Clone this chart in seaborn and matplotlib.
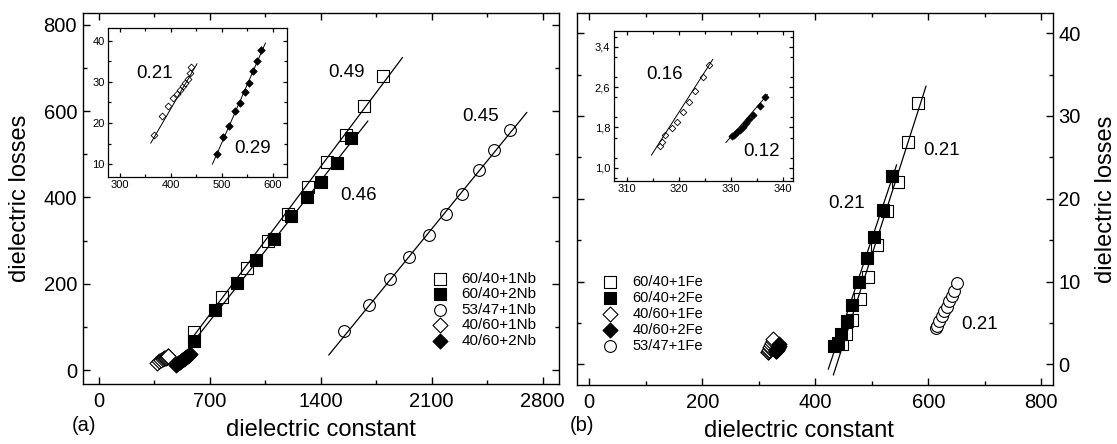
import matplotlib
matplotlib.use("Agg")
import matplotlib.pyplot as plt
import seaborn as sns
from matplotlib.ticker import MultipleLocator, FixedLocator, FixedFormatter

sns.set_theme(style="ticks")
plt.rcParams.update({
    "axes.edgecolor": "black", "text.color": "black", "axes.labelcolor": "black",
    "xtick.color": "black", "ytick.color": "black",
})
plt.rcParams["font.family"] = ["Liberation Sans", "DejaVu Sans"]

# ---------------- panel (a): Nb-doped ceramics ----------------
nb1_60_x = [603, 777, 939, 1071, 1197, 1323, 1439, 1559, 1671, 1795]
nb1_60_y = [89, 169, 236, 300, 362, 423, 482, 545, 612, 681]
nb2_60_x = [599, 735, 872, 992, 1103, 1214, 1313, 1403, 1502, 1590]
nb2_60_y = [68, 139, 203, 255, 304, 356, 401, 435, 480, 538]
nb1_53_x = [1548, 1706, 1840, 1960, 2080, 2191, 2294, 2397, 2495, 2596]
nb1_53_y = [91, 151, 210, 261, 312, 362, 408, 463, 509, 557]
nb1_40_x = [368, 383, 395, 404, 412, 418, 424, 429, 434, 438, 441]
nb1_40_y = [17.0, 21.6, 24.2, 26.0, 27.1, 28.0, 28.9, 29.8, 30.8, 32.2, 33.7]
nb2_40_x = [491, 503, 515, 526, 537, 545, 554, 561, 570, 578]
nb2_40_y = [12.6, 16.5, 19.3, 22.8, 24.8, 27.6, 29.7, 32.6, 35.0, 37.7]

# linear fits (end points)
fit_nb1_60_x, fit_nb1_60_y = [585, 1916], [72, 724]
fit_nb2_60_x, fit_nb2_60_y = [585, 1698], [60, 577]
fit_nb1_53_x, fit_nb1_53_y = [1451, 2700], [35, 597]
fit_nb1_40_x, fit_nb1_40_y = [361, 452], [15.1, 34.4]
fit_nb2_40_x, fit_nb2_40_y = [482, 586], [10.0, 39.4]

slopes_a = ["0.49", "0.46", "0.45"]
slopes_a_xy = [(1563, 690), (1638, 404), (2405, 588)]
slopes_a_inset = ["0.21", "0.29"]
slopes_a_inset_xy = [(369, 31.9), (561, 13.9)]

# ---------------- panel (b): Fe-doped ceramics ----------------
fe1_60_x = [447, 455, 465.5, 479, 494, 510, 527.5, 546, 563.5, 582.5]
fe1_60_y = [2.4, 3.6, 5.3, 7.9, 10.6, 14.4, 18.5, 22.0, 26.9, 31.6]
fe2_60_x = [433, 440, 445, 455.5, 464.4, 477.3, 491, 503.9, 519.3, 535.2]
fe2_60_y = [2.2, 2.6, 3.6, 5.2, 7.2, 10.0, 12.8, 15.4, 18.6, 22.7]
fe1_40_x = [316.3, 316.8, 317.4, 318.7, 319.7, 320.8, 322.0, 323.1, 324.6, 325.8]
fe1_40_y = [1.44, 1.52, 1.65, 1.78, 1.91, 2.11, 2.31, 2.53, 2.79, 3.04]
fe2_40_x = [330.1, 330.6, 331.1, 331.7, 332.2, 332.8, 333.5, 334.3, 335.5, 336.6]
fe2_40_y = [1.62, 1.65, 1.70, 1.75, 1.81, 1.88, 1.96, 2.05, 2.23, 2.40]
fe1_53_x = [613.6, 616, 619.5, 623.7, 627.8, 632.6, 637.3, 641.4, 645.5, 651.3]
fe1_53_y = [4.4, 4.65, 5.17, 5.78, 6.38, 6.98, 7.59, 8.27, 8.91, 9.8]

fit_fe1_60_x, fit_fe1_60_y = [432, 596], [-1.3, 33.6]
fit_fe2_60_x, fit_fe2_60_y = [423, 544], [-0.6, 24.1]
fit_fe1_40_x, fit_fe1_40_y = [314.7, 326.5], [1.25, 3.15]
fit_fe2_40_x, fit_fe2_40_y = [329.0, 337.0], [1.50, 2.45]

slopes_b = ["0.21", "0.21", "0.21"]
slopes_b_xy = [(623.7, 25.8), (455.5, 19.4), (691.5, 4.8)]
slopes_b_inset = ["0.16", "0.12"]
slopes_b_inset_xy = [(317.3, 2.84), (335.8, 1.32)]
inset_b_yticks = [1.0, 1.8, 2.6, 3.4]
inset_b_yticklabels = ["1,0", "1,8", "2,6", "3,4"]

TICK_FS = 14.5
LABEL_FS = 17
NOTE_FS = 13.5

fig = plt.figure(figsize=(11.17, 4.44), dpi=100)
ax_a = fig.add_axes([0.0740, 0.1351, 0.4261, 0.8356])
ax_b = fig.add_axes([0.5168, 0.1329, 0.4256, 0.8372])


def open_pts(ax, x, y, marker, s, label=None, lw=0.8):
    sns.scatterplot(x=x, y=y, ax=ax, marker=marker, s=s, color="white",
                    edgecolor="black", linewidth=lw, label=label, legend=False, zorder=3)


def full_pts(ax, x, y, marker, s, label=None, lw=0.8):
    sns.scatterplot(x=x, y=y, ax=ax, marker=marker, s=s, color="black",
                    edgecolor="black", linewidth=lw, label=label, legend=False, zorder=3)


def fit_line(ax, x, y, lw=0.9):
    sns.lineplot(x=x, y=y, ax=ax, color="black", linewidth=lw, legend=False, zorder=4)


def style_axes(ax, fs, major, minor, pad_x, pad_y, lw=1.0):
    ax.tick_params(which="both", direction="in", top=True, right=True,
                   bottom=True, left=True, width=lw, labelsize=fs)
    ax.tick_params(which="major", length=major)
    ax.tick_params(which="minor", length=minor)
    ax.tick_params(axis="x", pad=pad_x)
    ax.tick_params(axis="y", pad=pad_y)
    for sp in ax.spines.values():
        sp.set_linewidth(lw)
        sp.set_color("black")
    ax.grid(False)


# ---------------- panel (a) ----------------
open_pts(ax_a, nb1_60_x, nb1_60_y, "s", 64, "60/40+1Nb")
full_pts(ax_a, nb2_60_x, nb2_60_y, "s", 64, "60/40+2Nb")
open_pts(ax_a, nb1_53_x, nb1_53_y, "o", 72, "53/47+1Nb")
open_pts(ax_a, nb1_40_x, nb1_40_y, "D", 58, "40/60+1Nb")
full_pts(ax_a, nb2_40_x, nb2_40_y, "D", 58, "40/60+2Nb")
fit_line(ax_a, fit_nb1_60_x, fit_nb1_60_y)
fit_line(ax_a, fit_nb2_60_x, fit_nb2_60_y)
fit_line(ax_a, fit_nb1_53_x, fit_nb1_53_y)
for txt, (tx, ty) in zip(slopes_a, slopes_a_xy):
    ax_a.text(tx, ty, txt, fontsize=NOTE_FS, ha="center", va="center")

ax_a.set_xlim(-100, 2900)
ax_a.set_ylim(-32, 827)
ax_a.xaxis.set_major_locator(MultipleLocator(700))
ax_a.xaxis.set_minor_locator(MultipleLocator(350))
ax_a.yaxis.set_major_locator(MultipleLocator(200))
ax_a.yaxis.set_minor_locator(MultipleLocator(100))
style_axes(ax_a, TICK_FS, 5, 3, 6, 4)
ax_a.set_xlabel("dielectric constant", fontsize=LABEL_FS)
ax_a.set_ylabel("dielectric losses", fontsize=LABEL_FS)
ax_a.xaxis.set_label_coords(0.5, -0.094)
ax_a.yaxis.set_label_coords(-0.108, 0.5)

leg_a = ax_a.legend(loc="upper left", bbox_to_anchor=(0.735, 0.303), frameon=False,
                    fontsize=11, handlelength=1.0, handletextpad=0.9,
                    labelspacing=0.1, borderpad=0, borderaxespad=0, scatterpoints=1)

# inset (a)
in_a = ax_a.inset_axes([0.054, 0.559, 0.375, 0.400])
open_pts(in_a, nb1_40_x, nb1_40_y, "D", 12, lw=0.6)
full_pts(in_a, nb2_40_x, nb2_40_y, "D", 14, lw=0.6)
fit_line(in_a, fit_nb1_40_x, fit_nb1_40_y, lw=0.7)
fit_line(in_a, fit_nb2_40_x, fit_nb2_40_y, lw=0.7)
for txt, (tx, ty) in zip(slopes_a_inset, slopes_a_inset_xy):
    in_a.text(tx, ty, txt, fontsize=NOTE_FS, ha="center", va="center")
in_a.set_xlim(278, 628)
in_a.set_ylim(7, 43)
in_a.xaxis.set_major_locator(MultipleLocator(100))
in_a.xaxis.set_minor_locator(MultipleLocator(50))
in_a.yaxis.set_major_locator(MultipleLocator(10))
in_a.yaxis.set_minor_locator(MultipleLocator(5))
style_axes(in_a, 8, 3, 2, 2.5, 2.5, lw=0.9)
in_a.set_xlabel("")
in_a.set_ylabel("")

# ---------------- panel (b) ----------------
open_pts(ax_b, fe1_60_x, fe1_60_y, "s", 64, "60/40+1Fe")
full_pts(ax_b, fe2_60_x, fe2_60_y, "s", 64, "60/40+2Fe")
open_pts(ax_b, fe1_40_x, fe1_40_y, "D", 58, "40/60+1Fe")
full_pts(ax_b, fe2_40_x, fe2_40_y, "D", 58, "40/60+2Fe")
open_pts(ax_b, fe1_53_x, fe1_53_y, "o", 72, "53/47+1Fe")
fit_line(ax_b, fit_fe1_60_x, fit_fe1_60_y)
fit_line(ax_b, fit_fe2_60_x, fit_fe2_60_y)
for txt, (tx, ty) in zip(slopes_b, slopes_b_xy):
    ax_b.text(tx, ty, txt, fontsize=NOTE_FS, ha="center", va="center")

ax_b.set_xlim(-21, 820)
ax_b.set_ylim(-2.5, 42.4)
ax_b.xaxis.set_major_locator(MultipleLocator(200))
ax_b.xaxis.set_minor_locator(MultipleLocator(100))
ax_b.yaxis.set_major_locator(MultipleLocator(10))
ax_b.yaxis.set_minor_locator(MultipleLocator(5))
style_axes(ax_b, TICK_FS, 5, 3, 6, 4)
ax_b.tick_params(axis="y", labelleft=False, labelright=True)
ax_b.yaxis.set_label_position("right")
ax_b.set_xlabel("dielectric constant", fontsize=LABEL_FS)
ax_b.set_ylabel("dielectric losses", fontsize=LABEL_FS)
ax_b.xaxis.set_label_coords(0.467, -0.093)
ax_b.yaxis.set_label_coords(1.089, 0.5)

leg_b = ax_b.legend(loc="upper left", bbox_to_anchor=(0.053, 0.296), frameon=False,
                    fontsize=10.5, handlelength=1.0, handletextpad=1.05,
                    labelspacing=0.14, borderpad=0, borderaxespad=0, scatterpoints=1)

# inset (b)
in_b = ax_b.inset_axes([0.077, 0.549, 0.377, 0.402])
open_pts(in_b, fe1_40_x, fe1_40_y, "D", 11, lw=0.6)
full_pts(in_b, fe2_40_x, fe2_40_y, "D", 13, lw=0.6)
fit_line(in_b, fit_fe1_40_x, fit_fe1_40_y, lw=0.7)
fit_line(in_b, fit_fe2_40_x, fit_fe2_40_y, lw=0.7)
for txt, (tx, ty) in zip(slopes_b_inset, slopes_b_inset_xy):
    in_b.text(tx, ty, txt, fontsize=NOTE_FS, ha="center", va="center")
in_b.set_xlim(307.5, 341.9)
in_b.set_ylim(0.74, 3.70)
in_b.xaxis.set_major_locator(MultipleLocator(10))
in_b.xaxis.set_minor_locator(MultipleLocator(5))
in_b.yaxis.set_major_locator(FixedLocator(inset_b_yticks))
in_b.yaxis.set_major_formatter(FixedFormatter(inset_b_yticklabels))
in_b.yaxis.set_minor_locator(MultipleLocator(0.4))
style_axes(in_b, 8, 3, 2, 2.5, 2.5, lw=0.9)
in_b.set_xlabel("")
in_b.set_ylabel("")

fig.text(72 / 1117, 1 - 425 / 444, "(a)", fontsize=14.5, ha="left", va="center")
fig.text(570 / 1117, 1 - 425 / 444, "(b)", fontsize=14.5, ha="left", va="center")

fig.savefig("out.png", dpi=100, facecolor="white")
